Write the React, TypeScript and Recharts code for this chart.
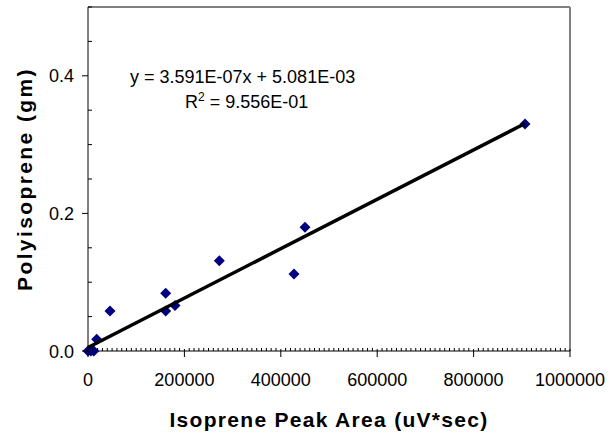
import React from "react";
import { ScatterChart, Scatter, XAxis, YAxis, ReferenceLine } from "recharts";

const peakArea = [0, 6000, 12000, 18000, 45600, 161200, 161200, 180500, 272400, 427400, 450200, 906600];
const polyisoprene = [0, 0.0, 0.0, 0.017, 0.058, 0.084, 0.058, 0.066, 0.131, 0.112, 0.18, 0.33];

const slope = 3.591e-7;
const intercept = 5.081e-3;
const trendX = [0, 906600];

const xMajor = [0, 200000, 400000, 600000, 800000, 1000000];
const xMinorStep = 10000;
const yMajor = [0, 0.2, 0.4];
const yTicks = [0, 0.05, 0.1, 0.15, 0.2, 0.25, 0.3, 0.35, 0.4, 0.45, 0.5];

const FONT = "'Liberation Sans', Arial, sans-serif";

const points = peakArea.map((x, i) => ({ x, y: polyisoprene[i] }));
const trend = trendX.map((x) => ({ x, y: slope * x + intercept }));

const xTicks: number[] = [];
for (let v = 0; v <= 1000000; v += xMinorStep) xTicks.push(v);

const isMajor = (list: number[], v: number) => list.some((m) => Math.abs(m - v) < 1e-9);

function XTick(props: any) {
  const { x, y, payload } = props;
  const v = payload.value;
  if (!isMajor(xMajor, v)) {
    return <line x1={x} x2={x} y1={y} y2={y - 3} stroke="#000" strokeWidth={1} />;
  }
  return (
    <g>
      <line x1={x} x2={x} y1={y - 2} y2={y + 6} stroke="#000" strokeWidth={1} />
      <text x={x} y={y + 35} textAnchor="middle" fontSize={18} fontFamily={FONT} fill="#000">
        {v}
      </text>
    </g>
  );
}

function YTick(props: any) {
  const { x, y, payload } = props;
  const v = payload.value;
  if (!isMajor(yMajor, v)) {
    return <line x1={x} x2={x + 4} y1={y} y2={y} stroke="#000" strokeWidth={1} />;
  }
  return (
    <g>
      <line x1={x - 6} x2={x} y1={y} y2={y} stroke="#000" strokeWidth={1} />
      <text x={x - 14} y={y + 6.5} textAnchor="end" fontSize={18} fontFamily={FONT} fill="#000">
        {v.toFixed(1)}
      </text>
    </g>
  );
}

const Diamond = (props: any) => {
  const { cx, cy } = props;
  const r = 5.5;
  return <path d={`M${cx},${cy - r}L${cx + r},${cy}L${cx},${cy + r}L${cx - r},${cy}Z`} fill="#000080" />;
};

export default function App() {
  return (
    <div style={{ position: "absolute", left: 0, top: 0, width: 610, height: 438, background: "#fff" }}>
      <ScatterChart width={610} height={438} margin={{ top: 7, right: 40, bottom: 0, left: 0 }}>
        <XAxis
          type="number"
          dataKey="x"
          domain={[0, 1000000]}
          ticks={xTicks}
          interval={0}
          tickSize={0}
          tickMargin={0}
          tickLine={false}
          tick={<XTick />}
          height={87}
          axisLine={{ stroke: "#000", strokeWidth: 1 }}
        />
        <YAxis
          type="number"
          dataKey="y"
          domain={[0, 0.5]}
          ticks={yTicks}
          interval={0}
          tickSize={0}
          tickMargin={0}
          tickLine={false}
          tick={<YTick />}
          width={88}
          axisLine={{ stroke: "#000", strokeWidth: 1 }}
        />
        <ReferenceLine y={0.5} stroke="#808080" strokeWidth={2} />
        <ReferenceLine x={1000000} stroke="#808080" strokeWidth={2} />
        <Scatter data={points} shape={<Diamond />} isAnimationActive={false} />
        <Scatter
          data={trend}
          line={{ stroke: "#000", strokeWidth: 3.5 }}
          lineType="joint"
          shape={() => <g />}
          isAnimationActive={false}
        />
      </ScatterChart>
      <svg
        width={610}
        height={438}
        style={{ position: "absolute", left: 0, top: 0, pointerEvents: "none" }}
        fontFamily={FONT}
      >
        <text x={130} y={83} fontSize={18} fill="#000">
          y = 3.591E-07x + 5.081E-03
        </text>
        <text x={185} y={108} fontSize={18} fill="#000">
          R<tspan fontSize={12} dy={-7}>2</tspan>
          <tspan dy={7}> = 9.556E-01</tspan>
        </text>
        <text x={329} y={427} textAnchor="middle" fontSize={21} fontWeight="bold" letterSpacing={1.3} fill="#000">
          Isoprene Peak Area (uV*sec)
        </text>
        <text
          x={32}
          y={179}
          transform="rotate(-90 32 179)"
          textAnchor="middle"
          fontSize={21}
          fontWeight="bold"
          letterSpacing={2.4}
          fill="#000"
        >
          Polyisoprene (gm)
        </text>
      </svg>
    </div>
  );
}
